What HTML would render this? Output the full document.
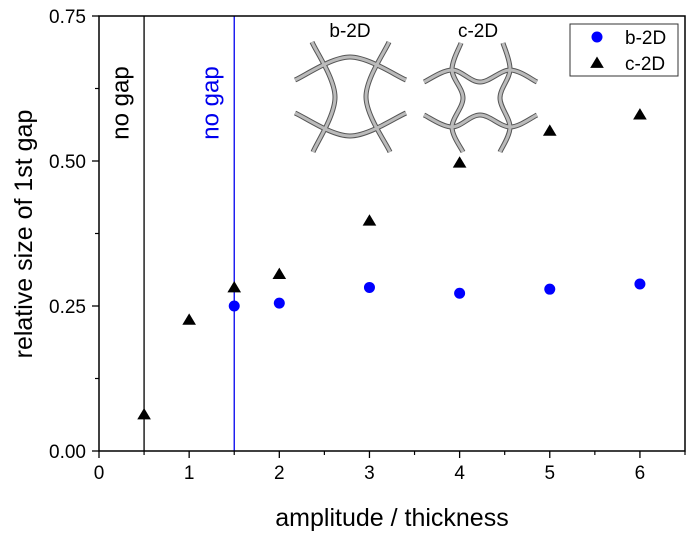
<!DOCTYPE html>
<html><head><meta charset="utf-8"><style>
body{margin:0;background:#fff;}
svg{display:block;font-family:"Liberation Sans",Arial,sans-serif;}
</style></head><body>
<svg id="chart" width="695" height="534"></svg>
<script>
const xTicks=[0,1,2,3,4,5,6];
const yTicks=[0,0.25,0.5,0.75];
const yTickLabels=["0.00","0.25","0.50","0.75"];
const bX=[1.5,2,3,4,5,6];
const bY=[0.25,0.255,0.282,0.272,0.279,0.288];
const cX=[0.5,1,1.5,2,3,4,5,6];
const cY=[0.063,0.226,0.282,0.305,0.397,0.497,0.552,0.58];
const noGapX=[0.5,1.5];
const noGapColors=["#000","#0000ee"];

const L=99,R=685,T=16,B=451;
const sx=v=>L+(v-0)/(6.5)*(R-L);
const sy=v=>B-(v/0.75)*(B-T);
const NS="http://www.w3.org/2000/svg";
const svg=document.getElementById('chart');
function mk(tag,attrs,parent){const e=document.createElementNS(NS,tag);for(const k in attrs)e.setAttribute(k,attrs[k]);(parent||svg).appendChild(e);return e;}

noGapX.forEach((v,i)=>{
  const ln=mk('line',{x1:sx(v),x2:sx(v),y1:T,y2:B,stroke:noGapColors[i],'stroke-width':1.3});
  
  
  const tx=sx(v)-22;
  const t=mk('text',{x:tx,y:103,'font-size':24,fill:noGapColors[i],'text-anchor':'middle',transform:`rotate(-90 ${tx} 103)`,'dominant-baseline':'middle'});
  t.textContent='no gap';
  
  
});

const fr=mk('rect',{x:L,y:T,width:R-L,height:B-T,fill:'none',stroke:'#000','stroke-width':1.5});



xTicks.forEach(v=>{
  mk('line',{x1:sx(v),x2:sx(v),y1:B,y2:B+7,stroke:'#000','stroke-width':1.3});
  const t=mk('text',{x:sx(v),y:B+28,'font-size':19,'text-anchor':'middle'});
  t.textContent=v;
  
  
  if(v<6.5) mk('line',{x1:sx(v+0.5),x2:sx(v+0.5),y1:B,y2:B+4,stroke:'#000','stroke-width':1.2});
});
yTicks.forEach((v,i)=>{
  mk('line',{x1:L-7,x2:L,y1:sy(v),y2:sy(v),stroke:'#000','stroke-width':1.3});
  if(i<yTicks.length-1) mk('line',{x1:L-4,x2:L,y1:sy(v+0.125),y2:sy(v+0.125),stroke:'#000','stroke-width':1.2});
  const t=mk('text',{x:L-13,y:sy(v)+7,'font-size':19,'text-anchor':'end'});
  t.textContent=yTickLabels[i];
  
  
});
const xt=mk('text',{x:392,y:526,'font-size':25,'text-anchor':'middle'});xt.textContent='amplitude / thickness';


const yt=mk('text',{x:32,y:234,'font-size':25,'text-anchor':'middle',transform:'rotate(-90 32 234)'});yt.textContent='relative size of 1st gap';



function cr(p){let d=`M${p[0][0]},${p[0][1]}`;for(let i=0;i<p.length-1;i++){const p0=p[i-1]||p[i],p1=p[i],p2=p[i+1],p3=p[i+2]||p2;d+=` C${p1[0]+(p2[0]-p0[0])/6},${p1[1]+(p2[1]-p0[1])/6} ${p2[0]-(p3[0]-p1[0])/6},${p2[1]-(p3[1]-p1[1])/6} ${p2[0]},${p2[1]}`;}return d;}
const bShapes=[[[312,42],[335,97],[313,152]],[[389,42],[366,97],[390,152]],[[295,80],[350,57],[406,80]],[[295,113],[350,136],[406,113]]];
const cShapes=[[[461,43],[452,70],[463,98],[452,127],[463,152]],[[503,43],[510,70],[500,98],[510,127],[500,152]],[[424,82],[452,70],[480,82],[510,70],[537,82]],[[424,115],[452,127],[480,115],[510,127],[537,115]]];
[['b-2d-inset',bShapes],['c-2d-inset',cShapes]].forEach(([n,sh])=>{
  const g=mk('g',{});
  sh.forEach(p=>{const d=cr(p);mk('path',{d,fill:'none',stroke:'#555','stroke-width':5,'stroke-linecap':'butt'},g);});
  sh.forEach(p=>{const d=cr(p);mk('path',{d,fill:'none',stroke:'#bbb','stroke-width':3},g);});
});
[['b-2D',350],['c-2D',478]].forEach(([s,x])=>{const t=mk('text',{x,y:37,'font-size':19,'text-anchor':'middle'});t.textContent=s;

});

bX.forEach((v,i)=>{const c=mk('circle',{cx:sx(v),cy:sy(bY[i]),r:5.5,fill:'#0000ff'});

});
function tri(x,y,s,p){return mk('polygon',{points:`${x},${y-s} ${x-s*1.05},${y+s*0.75} ${x+s*1.05},${y+s*0.75}`,fill:'#000'},p);}
cX.forEach((v,i)=>{const t=tri(sx(v),sy(cY[i]),6.5);

});

const lg=mk('g',{});
mk('rect',{x:570,y:24,width:108,height:52,fill:'#fff',stroke:'#333','stroke-width':1},lg);
mk('circle',{cx:597,cy:37,r:5.5,fill:'#0000ff'},lg);
tri(597,63,6.5,lg);
const l1=mk('text',{x:625,y:44,'font-size':19},lg);l1.textContent='b-2D';
const l2=mk('text',{x:625,y:70,'font-size':19},lg);l2.textContent='c-2D';
</script>
</body></html>
